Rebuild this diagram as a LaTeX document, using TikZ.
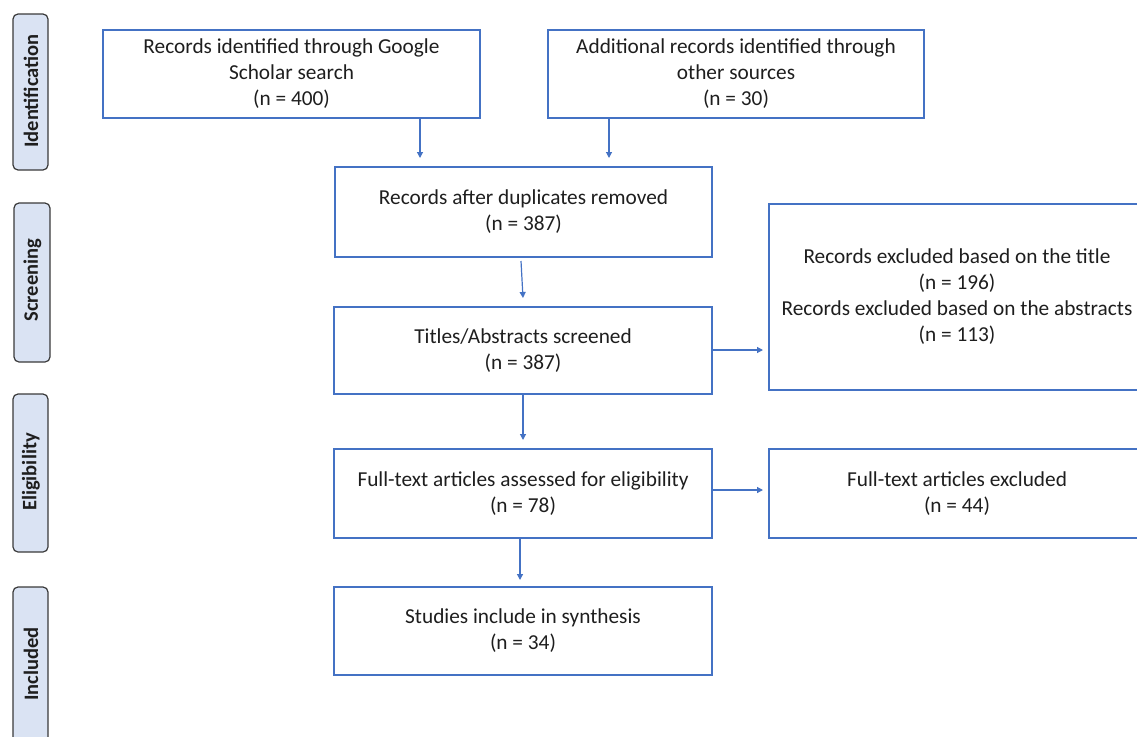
\documentclass[tikz,border=0pt]{standalone}
\usepackage{fontspec}
\setmainfont{Carlito}
\usetikzlibrary{arrows.meta}
\definecolor{bblue}{HTML}{4472C4}
\definecolor{sidefill}{HTML}{DAE3F3}
\definecolor{sideline}{HTML}{3A3A3A}
\definecolor{txt}{HTML}{1E1E1E}
\begin{document}
\begin{tikzpicture}[x=1pt,y=-1pt,
  box/.style={draw=bblue,line width=1.3pt,text=txt,align=center,
    font=\fontsize{21.3}{26}\selectfont,inner sep=0pt},
  side/.style={draw=sideline,fill=sidefill,rounded corners=5pt,line width=1.2pt},
  sidetext/.style={rotate=90,font=\fontsize{20.5}{24}\selectfont\bfseries,text=txt},
  arr/.style={draw=bblue,line width=1.2pt,-{Triangle[length=6pt,width=6pt]}}]
\useasboundingbox (0,0) rectangle (1137,736);
\begin{scope}
\clip (0,0) rectangle (1137,736);
% side bars
\draw[side] (13,14) rectangle (48,170);
\node[sidetext] (sid) at (31,91) {Identification};
\draw[side] (14,203) rectangle (50,362);
\node[sidetext] (sscr) at (32.5,280) {Screening};
\draw[side] (13,394) rectangle (48,552);
\node[sidetext] (selig) at (31,472) {Eligibility};
\draw[side] (13,587) rectangle (48,760);
\node[sidetext] (sinc) at (31,664) {Included};
% boxes
\node[box,minimum width=377pt,minimum height=88pt] (A) at (291.5,74) {Records identified through Google\\Scholar search\\(n = 400)};
\node[box,minimum width=376pt,minimum height=88pt] (B) at (736,74) {Additional records identified through\\other sources\\(n = 30)};
\node[box,minimum width=377pt,minimum height=90pt] (C) at (523.5,212) {Records after duplicates removed\\(n = 387)};
\node[box,minimum width=378pt,minimum height=87pt] (D) at (523,350.5) {Titles/Abstracts screened\\(n = 387)};
\node[box,minimum width=376pt,minimum height=186pt] (E) at (957,297) {Records excluded based on the title\\(n = 196)\\Records excluded based on the abstracts\\(n = 113)};
\node[box,minimum width=378pt,minimum height=89pt] (F) at (523,493.5) {Full-text articles assessed for eligibility\\(n = 78)};
\node[box,minimum width=376pt,minimum height=89pt] (G) at (957,493.5) {Full-text articles excluded\\(n = 44)};
\node[box,minimum width=378pt,minimum height=88pt] (H) at (523,631) {Studies include in synthesis\\(n = 34)};
% arrows
\coordinate (a1) at (420,158);
\coordinate (b1) at (609,158);
\draw[arr] (A.south -| a1) -- (a1);
\draw[arr] (B.south -| b1) -- (b1);
\coordinate (c0) at (521,261);
\coordinate (c1) at (523,298);
\draw[arr] (c0) -- (c1);
\coordinate (d1) at (523,440);
\draw[arr] (D.south -| d1) -- (d1);
\coordinate (e1) at (763,350);
\draw[arr] (D.east |- e1) -- (e1);
\coordinate (g1) at (763,490);
\draw[arr] (F.east |- g1) -- (g1);
\coordinate (h1) at (520,580);
\draw[arr] (F.south -| h1) -- (h1);
\end{scope}
\end{tikzpicture}
\end{document}
